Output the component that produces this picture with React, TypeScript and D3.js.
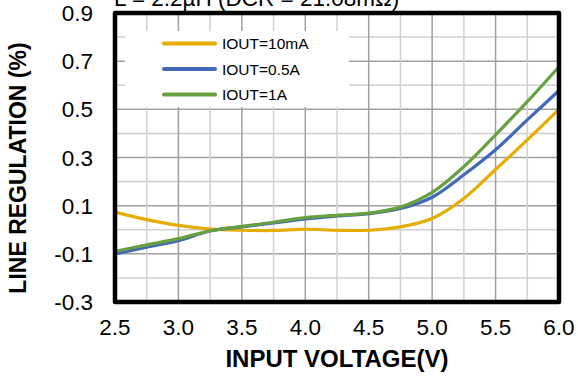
import React from "react";
import * as d3 from "d3";

const voltages = [2.5, 2.75, 3.0, 3.25, 3.5, 3.75, 4.0, 4.25, 4.5, 4.75, 5.0, 5.25, 5.5, 5.75, 6.0];
const iout10mA = [0.073, 0.042, 0.018, 0.003, -0.002, -0.003, 0.002, -0.002, -0.002, 0.012, 0.047, 0.13, 0.25, 0.373, 0.5];
const iout05A = [-0.1, -0.072, -0.045, -0.005, 0.012, 0.028, 0.045, 0.057, 0.067, 0.088, 0.135, 0.228, 0.332, 0.456, 0.578];
const iout1A = [-0.09, -0.063, -0.037, -0.004, 0.014, 0.031, 0.05, 0.06, 0.069, 0.094, 0.155, 0.262, 0.394, 0.532, 0.677];

const seriesNames = ["IOUT=10mA", "IOUT=0.5A", "IOUT=1A"];
const seriesColors = ["#E6AC00", "#4169B8", "#66A040"];

const xTicks = [2.5, 3.0, 3.5, 4.0, 4.5, 5.0, 5.5, 6.0];
const yTicks = [0.9, 0.7, 0.5, 0.3, 0.1, -0.1, -0.3];
const xGrid = d3.range(2.5, 6.0001, 0.25);
const yGrid = d3.range(-0.3, 0.9001, 0.1);

const titleText = "L = 2.2µH (DCR = 21.08mΩ)";
const xTitle = "INPUT VOLTAGE(V)";
const yTitle = "LINE REGULATION (%)";

export default function App() {
  const W = 578, H = 376;
  const x = d3.scaleLinear().domain([2.5, 6.0]).range([115, 559]);
  const y = d3.scaleLinear().domain([-0.3, 0.9]).range([302, 13]);
  const allSeries = [iout10mA, iout05A, iout1A];
  const line = d3
    .line<number>()
    .x((_, i) => x(voltages[i]))
    .y((d) => y(d))
    .curve(d3.curveCatmullRom.alpha(0.5));
  const font = "Arial, 'Liberation Sans', sans-serif";
  const isMajorX = (v: number) => Math.abs((v * 2) - Math.round(v * 2)) < 1e-6;
  const isMajorY = (v: number) => yTicks.some((t) => Math.abs(t - v) < 1e-6);

  return (
    <svg width={W} height={H} style={{ position: "absolute", left: 0, top: 0, background: "#fff" }} fontFamily={font}>
      <text x={114} y={6} fontSize={22.5} fill="#000">{titleText}</text>
      {yGrid.map((v, i) => (
        <line key={"yg" + i} x1={x(2.5)} x2={x(6.0)} y1={y(v)} y2={y(v)}
          stroke={isMajorY(v) ? "#a0a0a0" : "#d0d0d0"} strokeWidth={1.5} />
      ))}
      {xGrid.map((v, i) => (
        <line key={"xg" + i} x1={x(v)} x2={x(v)} y1={y(-0.3)} y2={y(0.9)}
          stroke={isMajorX(v) ? "#a0a0a0" : "#d0d0d0"} strokeWidth={1.5} />
      ))}
      <rect x={125} y={31} width={224} height={76} fill="#fff" />
      {allSeries.map((s, i) => (
        <path key={"s" + i} d={line(s) || ""} fill="none" stroke={seriesColors[i]} strokeWidth={3.2} strokeLinecap="round" />
      ))}
      {seriesNames.map((n, i) => (
        <g key={"lg" + i}>
          <line x1={164} x2={215} y1={43.5 + i * 25.5} y2={43.5 + i * 25.5} stroke={seriesColors[i]} strokeWidth={4} strokeLinecap="round" />
          <text x={222} y={43.5 + i * 25.5} dy="0.36em" fontSize={15.5} fill="#000">{n}</text>
        </g>
      ))}
      <rect x={x(2.5)} y={y(0.9)} width={x(6.0) - x(2.5)} height={y(-0.3) - y(0.9)}
        fill="none" stroke="#000" strokeWidth={4.5} strokeLinejoin="round" />
      {xTicks.map((t) => (
        <text key={"xt" + t} x={x(t)} y={335} textAnchor="middle" fontSize={22.5} fill="#000">{t.toFixed(1)}</text>
      ))}
      {yTicks.map((t) => (
        <text key={"yt" + t} x={93} y={y(t)} dy="0.36em" textAnchor="end" fontSize={22.5} fill="#000">{t.toFixed(1)}</text>
      ))}
      <text x={337} y={367} textAnchor="middle" fontSize={24} fontWeight="bold" fill="#000">{xTitle}</text>
      <text transform={`translate(26,168) rotate(-90)`} textAnchor="middle" fontSize={23} fontWeight="bold" fill="#000">{yTitle}</text>
    </svg>
  );
}
